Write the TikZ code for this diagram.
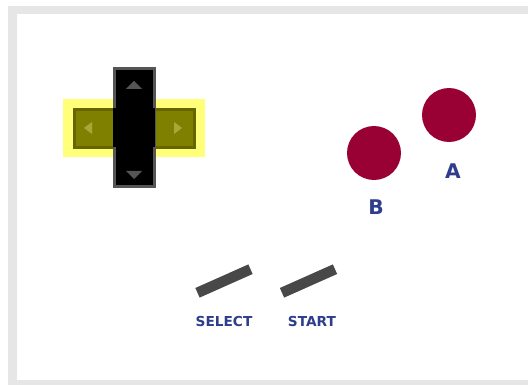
\documentclass[tikz,border=0pt]{standalone}
\usepackage{fontspec}
\setsansfont{DejaVu Sans}
\usepackage{xcolor}
\usetikzlibrary{positioning}
\definecolor{framegray}{HTML}{E6E6E6}
\definecolor{glowyellow}{HTML}{FFFF7A}
\definecolor{padolive}{HTML}{808000}
\definecolor{padedge}{HTML}{666600}
\definecolor{padarrow}{HTML}{A8A838}
\definecolor{crossedge}{HTML}{555555}
\definecolor{btnred}{HTML}{990033}
\definecolor{lblblue}{HTML}{2E3D8C}
\definecolor{bargray}{HTML}{484848}
\tikzset{
gbglow/.style={rectangle,fill=glowyellow,inner sep=0pt,minimum width=2.84cm,minimum height=1.16cm},
gbhbar/.style={rectangle,fill=padolive,draw=padedge,line width=0.06cm,inner sep=0pt,minimum width=2.40cm,minimum height=0.76cm},
gbvbar/.style={rectangle,fill=black,draw=crossedge,line width=0.06cm,inner sep=0pt,minimum width=0.80cm,minimum height=2.36cm},
gbhub/.style={rectangle,fill=black,inner sep=0pt,minimum width=0.84cm,minimum height=0.80cm},
gbbtn/.style={circle,fill=btnred,inner sep=0pt,minimum size=1.08cm},
gbpill/.style={rectangle,fill=bargray,inner sep=0pt,minimum width=1.16cm,minimum height=0.21cm,rotate=24},
gbbig/.style={font=\sffamily\bfseries\fontsize{11.5}{13}\selectfont,text=lblblue,inner sep=0pt},
gbsmall/.style={font=\sffamily\bfseries\fontsize{7.8}{9}\selectfont,text=lblblue,inner sep=0pt}
}
\begin{document}
\begin{tikzpicture}[
x=0.02cm,
y=-0.02cm
]
\useasboundingbox (0,0) rectangle (528,385);
% frame
\fill[framegray] (8,6) rectangle (528,385);
\fill[white] (17,14) rectangle (528,380);
% d-pad
\node[gbglow] (glow) at (134,128) {};
\node[gbhbar] (hbar) at (134.5,128.5) {};
\node[gbvbar] (vbar) at (134.5,127.5) {};
\node[gbhub] (hub) at (134,127.5) {};
\fill[crossedge] (134,81) -- (126,89) -- (142,89) -- cycle;
\fill[crossedge] (134,179) -- (126,171) -- (142,171) -- cycle;
\fill[padarrow] (84,128) -- (92,122) -- (92,134) -- cycle;
\fill[padarrow] (182,128) -- (174,122) -- (174,134) -- cycle;
% buttons
\node[gbbtn] (btnA) at (449,115) {};
\node[gbbtn] (btnB) at (374,153) {};
\node[gbbig] (lblA) at (453,171) {A};
\node[gbbig] (lblB) at (376,207) {B};
% select / start
\node[gbpill] (select) at (224,281) {};
\node[gbpill] (start) at (308.5,281) {};
\node[gbsmall] (lblselect) at (224,322) {SELECT};
\node[gbsmall] (lblstart) at (312,322) {START};
\end{tikzpicture}
\end{document}
